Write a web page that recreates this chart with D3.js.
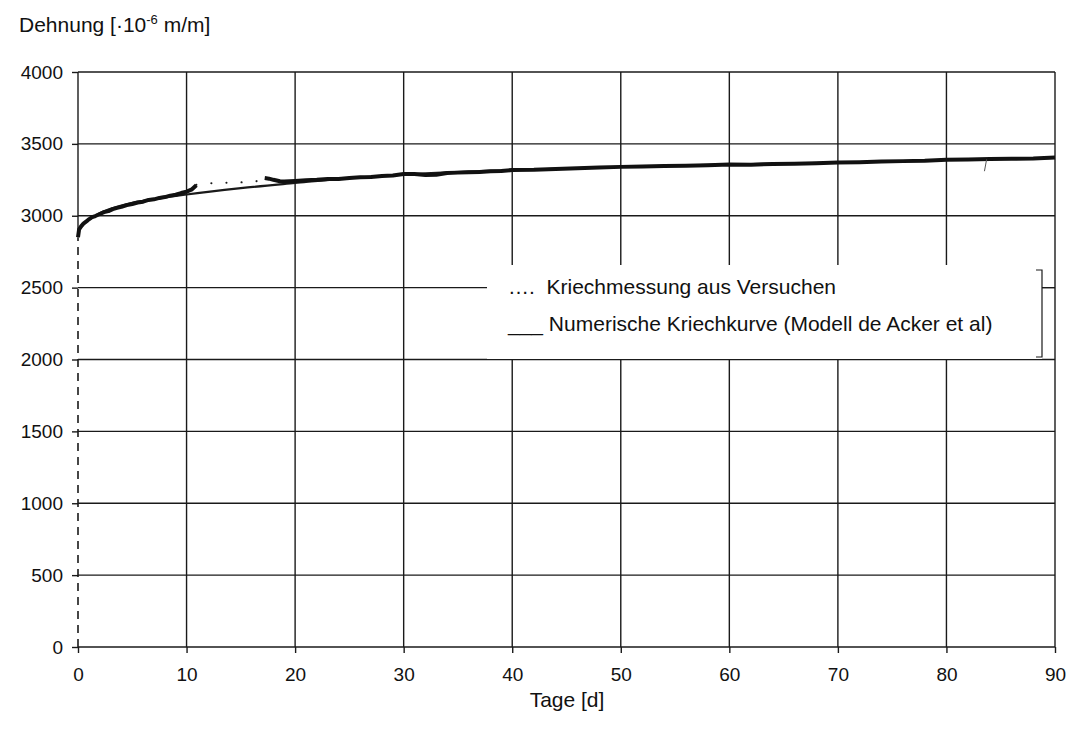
<!DOCTYPE html>
<html>
<head>
<meta charset="utf-8">
<script src="https://cdn.jsdelivr.net/npm/d3@7"></script>
<style>
	body { margin: 0; background: #fff; }
	svg text { font-family: "Liberation Sans", Arial, sans-serif; fill: #111; }
</style>
</head>
<body>
<svg id="chart" width="1069" height="738"></svg>
<script>
// ticks
var xTicks = [0, 10, 20, 30, 40, 50, 60, 70, 80, 90];
var yTicks = [0, 500, 1000, 1500, 2000, 2500, 3000, 3500, 4000];

// measurement (Kriechmessung), first part
var measDays1 = [0, 0.1, 0.3, 0.5, 0.8, 1.0, 1.3, 1.6, 2.0, 2.4, 2.8, 3.2, 3.6, 4.0, 4.5, 5.0, 5.5, 6.0, 6.5, 7.0, 7.5, 8.0, 8.5, 9.0, 9.5, 10.0, 10.5, 10.9];
var measVals1 = [2850, 2905, 2928, 2945, 2962, 2975, 2990, 2998, 3012, 3025, 3032, 3046, 3055, 3062, 3074, 3082, 3092, 3098, 3110, 3114, 3124, 3130, 3140, 3146, 3158, 3168, 3184, 3212];
// measurement, second part
var measDays2 = [17.2, 17.6, 18.0, 18.6, 19, 20, 21, 22, 23, 24, 25, 26, 27, 28, 29, 30, 31, 32, 33, 34, 35, 36, 37, 38, 39, 40, 42, 44, 46, 48, 50, 52, 54, 56, 58, 60, 62, 64, 66, 68, 70, 72, 74, 76, 78, 80, 82, 84, 86, 88, 90];
var measVals2 = [3262, 3258, 3250, 3240, 3238, 3242, 3247, 3250, 3256, 3255, 3263, 3268, 3270, 3276, 3280, 3290, 3290, 3284, 3285, 3298, 3300, 3303, 3305, 3309, 3312, 3318, 3320, 3326, 3330, 3336, 3340, 3342, 3346, 3348, 3351, 3356, 3355, 3360, 3362, 3366, 3370, 3372, 3377, 3380, 3383, 3390, 3392, 3394, 3396, 3398, 3405];
// dotted gap between the two parts
var gapDays = [10.9, 12, 13.5, 15, 16.2, 17.2];
var gapVals = [3215, 3226, 3230, 3232, 3236, 3255];
// initial elastic jump at t = 0 (dashed)
var jumpDays = [0, 0];
var jumpVals = [0, 2850];
// small spike near day 83.5
var spikeDays = [83.7, 83.5];
var spikeVals = [3392, 3310];

// numerical creep curve (de Acker)
var modelDays = [0, 0.5, 1, 2, 3, 5, 7, 10, 15, 20, 25, 30, 40, 50, 60, 70, 80, 90];
var modelVals = [2890, 2940, 2972, 3018, 3048, 3090, 3115, 3148, 3192, 3228, 3262, 3287, 3318, 3340, 3356, 3370, 3388, 3402];

var legendItems = ["\u2026.  Kriechmessung aus Versuchen", "___ Numerische Kriechkurve (Modell de Acker et al)"];

var svg = d3.select("svg#chart");
var x = d3.scaleLinear().domain([0, 90]).range([78, 1055]);
var y = d3.scaleLinear().domain([0, 4000]).range([647, 72]);

var ink = "#1a1a1a";
var tickFont = 19;

// grid
var grid = svg.append("g").attr("stroke", ink).attr("stroke-width", 1.4);
grid.selectAll("line.v")
	.data(xTicks.filter(function(d) { return d > 0; }))
  .enter().append("line")
	.attr("x1", function(d) { return x(d); })
	.attr("x2", function(d) { return x(d); })
	.attr("y1", y(4000))
	.attr("y2", y(0));
grid.selectAll("line.h")
	.data(yTicks)
  .enter().append("line")
	.attr("x1", x(0))
	.attr("x2", x(90))
	.attr("y1", function(d) { return y(d); })
	.attr("y2", function(d) { return y(d); });
// left axis line (solid above the start of the curve)
grid.append("line")
	.attr("x1", x(0)).attr("x2", x(0))
	.attr("y1", y(4000)).attr("y2", y(2900));

// axes (ticks + labels only)
svg.append("g")
	.attr("transform", "translate(" + x(0) + ",0)")
	.call(d3.axisLeft(y).tickValues(yTicks).tickFormat(d3.format("d")).tickSize(6).tickPadding(9))
	.call(function(g) {
		g.select(".domain").remove();
		g.selectAll("line").attr("stroke", ink).attr("stroke-width", 1.4);
		g.selectAll("text").attr("font-size", tickFont).attr("font-family", "Liberation Sans, Arial, sans-serif").attr("fill", "#111");
	});
svg.append("g")
	.attr("transform", "translate(0," + y(0) + ")")
	.call(d3.axisBottom(x).tickValues(xTicks).tickFormat(d3.format("d")).tickSize(6).tickPadding(15))
	.call(function(g) {
		g.select(".domain").remove();
		g.selectAll("line").attr("stroke", ink).attr("stroke-width", 1.4);
		g.selectAll("text").attr("font-size", tickFont).attr("font-family", "Liberation Sans, Arial, sans-serif").attr("fill", "#111");
	});

var line = d3.line()
	.x(function(d) { return x(d[0]); })
	.y(function(d) { return y(d[1]); });
function pairs(a, b) { return a.map(function(d, i) { return [d, b[i]]; }); }

// dashed jump
svg.append("path")
	.datum(pairs(jumpDays, jumpVals))
	.attr("d", line)
	.attr("fill", "none").attr("stroke", ink).attr("stroke-width", 1.6)
	.attr("stroke-dasharray", "8,6");

// dotted gap
svg.append("path")
	.datum(pairs(gapDays, gapVals))
	.attr("d", line)
	.attr("fill", "none").attr("stroke", ink).attr("stroke-width", 2)
	.attr("stroke-linecap", "round")
	.attr("stroke-dasharray", "0.1,15");

// model curve
svg.append("path")
	.datum(pairs(modelDays, modelVals))
	.attr("d", line.curve(d3.curveMonotoneX))
	.attr("fill", "none").attr("stroke", ink).attr("stroke-width", 2.2);

line.curve(d3.curveLinear);
// measurement
[pairs(measDays1, measVals1), pairs(measDays2, measVals2)].forEach(function(seg) {
	svg.append("path")
		.datum(seg)
		.attr("d", line)
		.attr("fill", "none").attr("stroke", "#111").attr("stroke-width", 4)
		.attr("stroke-linejoin", "round");
});
svg.append("path")
	.datum(pairs(spikeDays, spikeVals))
	.attr("d", line)
	.attr("fill", "none").attr("stroke", "#555").attr("stroke-width", 1);

// legend
var lg = svg.append("g");
lg.append("rect")
	.attr("x", 487).attr("y", 265)
	.attr("width", 555).attr("height", 94)
	.attr("fill", "#fff");
lg.append("path")
	.attr("d", "M1036,270H1042V357H1036M1042," + y(2500) + "H" + x(90))
	.attr("fill", "none").attr("stroke", ink).attr("stroke-width", 1.2);
lg.selectAll("text")
	.data(legendItems)
  .enter().append("text")
	.attr("x", 508)
	.attr("y", function(d, i) { return 294 + i * 37; })
	.attr("font-size", 21)
	.attr("xml:space", "preserve")
	.style("white-space", "pre")
	.text(function(d) { return d; });

// titles
var yt = svg.append("text").attr("x", 19).attr("y", 32).attr("font-size", 21);
yt.append("tspan").text("Dehnung [·10");
yt.append("tspan").attr("dy", -8).attr("font-size", 13).text("-6");
yt.append("tspan").attr("dy", 8).text(" m/m]");

svg.append("text")
	.attr("x", 567).attr("y", 707)
	.attr("text-anchor", "middle")
	.attr("font-size", 21)
	.text("Tage [d]");
</script>
</body>
</html>
